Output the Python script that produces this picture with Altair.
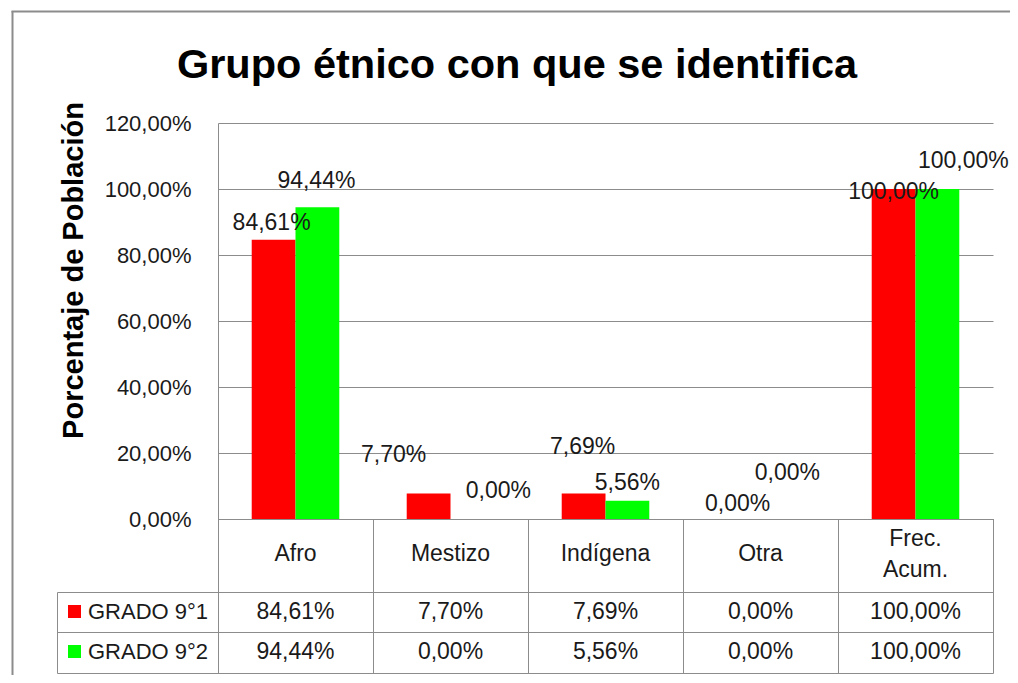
import altair as alt
import pandas as pd

# ---------------- data ----------------
categorias = ["Afro", "Mestizo", "Indígena", "Otra", "Frec.\nAcum."]
series = ["GRADO 9°1", "GRADO 9°2"]
grado_9_1 = [84.61, 7.70, 7.69, 0.00, 100.00]
grado_9_2 = [94.44, 0.00, 5.56, 0.00, 100.00]
colores = ["#FF0000", "#00FF00"]
ticks_y = [0, 20, 40, 60, 80, 100, 120]
titulo = "Grupo étnico con que se identifica"
titulo_eje_y = "Porcentaje de Población"

# ---------------- layout / style ----------------
W, H = 775, 396
STEP = W / len(categorias)
FONT = "Liberation Sans"
GRID = "#8c8c8c"
TXT = "#1a1a1a"
HEADER_BOTTOM = 469.5
ROW_MID = 509.5
TABLE_BOTTOM = 550.5
TABLE_LEFT = -160.5
HEADER_Y = 431
HEADER_LH = 31
ROW_Y = [489, 529]
# manual data-label offsets (dx, dy) as placed in the original, per category / series
label_offsets = [
    [(-2, -17), (-1, -26)],
    [(-35, -39), (26, -28)],
    [(-1, -47), (0, -18)],
    [(-1, -15), (5, -46)],
    [(0, 3), (26, -28)],
]

valores = [grado_9_1, grado_9_2]
rows = []
for i, c in enumerate(categorias):
    for j, s in enumerate(series):
        rows.append({"cat": c, "serie": s, "valor": valores[j][i]})
df = pd.DataFrame(rows)

base = alt.Chart(df).transform_calculate(
    etiqueta="replace(format(datum.valor, '.2f'), '.', ',') + '%'"
)

x_enc = alt.X("cat:N", scale=alt.Scale(domain=categorias, paddingInner=0, paddingOuter=0), axis=None)
xoff = alt.XOffset("serie:N", scale=alt.Scale(domain=series, paddingInner=0, paddingOuter=0.77))
y_scale = alt.Scale(domain=[0, 120], nice=False, zero=True)
y_axis = alt.Axis(
    values=ticks_y,
    labelExpr="replace(format(datum.value, '.2f'), '.', ',') + '%'",
    labelFont=FONT,
    labelFontSize=22,
    labelColor=TXT,
    labelPadding=27,
    ticks=False,
    domain=True,
    domainColor=GRID,
    grid=True,
    gridColor=GRID,
    gridOpacity=1,
    title=titulo_eje_y,
    titleFont=FONT,
    titleFontSize=29,
    titleFontWeight="bold",
    titleColor="#000000",
    titleAngle=270,
    titleX=-145,
    titleY=147,
    titleAlign="center",
    titleBaseline="middle",
)
y_enc = alt.Y("valor:Q", scale=y_scale, axis=y_axis, title=titulo_eje_y)
color_enc = alt.Color("serie:N", scale=alt.Scale(domain=series, range=colores), legend=None)

bars = base.mark_bar().encode(x=x_enc, xOffset=xoff, y=y_enc, color=color_enc)

layers = [bars]

# data labels
for i, c in enumerate(categorias):
    for j, s in enumerate(series):
        dx, dy = label_offsets[i][j]
        layers.append(
            base.transform_filter(alt.FieldEqualPredicate(field="cat", equal=c))
            .transform_filter(alt.FieldEqualPredicate(field="serie", equal=s))
            .mark_text(dx=dx, dy=dy, font=FONT, fontSize=23, color=TXT, align="center", baseline="middle")
            .encode(x=x_enc, xOffset=xoff, y=y_enc, text="etiqueta:N")
        )

dummy = alt.Chart(pd.DataFrame({"k": [0]}))


def seg(x1, x2, y1, y2, color=GRID, w=1):
    return dummy.mark_rule(color=color, strokeWidth=w).encode(
        x=alt.value(x1), x2=alt.value(x2), y=alt.value(y1), y2=alt.value(y2)
    )


# data table grid
for i in range(0, len(categorias) + 1):
    layers.append(seg(STEP * i + 0.5, STEP * i + 0.5, H, TABLE_BOTTOM))
for yy in [HEADER_BOTTOM, ROW_MID, TABLE_BOTTOM]:
    layers.append(seg(TABLE_LEFT, W + 0.5, yy, yy))
layers.append(seg(TABLE_LEFT, TABLE_LEFT, HEADER_BOTTOM, TABLE_BOTTOM))

# outer chart border
layers.append(seg(-205.5, -205.5, -112, 560, color="#8c8c8c", w=2))
layers.append(seg(-206.5, 820, -111.5, -111.5, color="#8c8c8c", w=2))

# header (category names)
for c in categorias:
    n_lines = c.count("\n") + 1
    layers.append(
        base.transform_filter(alt.FieldEqualPredicate(field="serie", equal=series[0]))
        .transform_filter(alt.FieldEqualPredicate(field="cat", equal=c))
        .mark_text(font=FONT, fontSize=23, color=TXT, lineBreak="\n", lineHeight=HEADER_LH,
                   align="center", baseline="middle", dy=-(n_lines - 1) * HEADER_LH / 2)
        .encode(x=x_enc, y=alt.value(HEADER_Y), text="cat:N")
    )

# table rows
for j, s in enumerate(series):
    layers.append(
        base.transform_filter(alt.FieldEqualPredicate(field="serie", equal=s))
        .mark_text(font=FONT, fontSize=23, color=TXT, align="center", baseline="middle")
        .encode(x=x_enc, y=alt.value(ROW_Y[j]), text="etiqueta:N")
    )
    layers.append(
        dummy.mark_rect(color=colores[j]).encode(
            x=alt.value(-150), x2=alt.value(-137), y=alt.value(ROW_Y[j] - 7), y2=alt.value(ROW_Y[j] + 6)
        )
    )
    layers.append(
        dummy.mark_text(text=s, font=FONT, fontSize=22, color=TXT, align="left", baseline="middle").encode(
            x=alt.value(-130), y=alt.value(ROW_Y[j])
        )
    )

# chart title
layers.append(
    dummy.mark_text(text=titulo, font=FONT, fontSize=41.5, fontWeight="bold", color="#000000",
                    align="center", baseline="middle").encode(x=alt.value(299), y=alt.value(-57))
)

chart = (
    alt.layer(*layers)
    .properties(
        width=W,
        height=H,
        autosize=alt.AutoSizeParams(type="none"),
        padding={"left": 210, "top": 115, "right": 17, "bottom": 156},
        background="white",
    )
    .configure_view(strokeWidth=0)
)

chart.save("out.html", embed_options={"renderer": "svg", "actions": False})
